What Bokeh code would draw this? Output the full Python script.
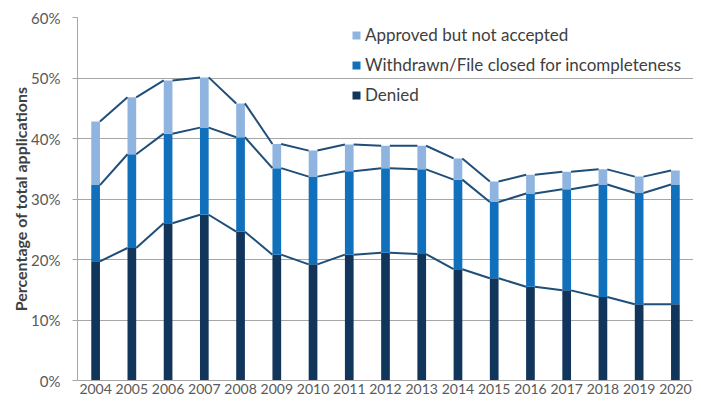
from bokeh.plotting import figure
from bokeh.models import Range1d, FixedTicker, CustomJSTickFormatter, Legend, LegendItem, ColumnDataSource
from bokeh.embed import file_html
from bokeh.resources import INLINE

years = list(range(2004, 2021))
denied = [19.7, 21.9, 26.0, 27.4, 24.6, 20.8, 19.2, 20.8, 21.1, 20.9, 18.4, 16.9, 15.5, 14.9, 13.8, 12.6, 12.6]
withdrawn = [12.6, 15.5, 14.8, 14.4, 15.6, 14.3, 14.5, 13.8, 14.0, 14.0, 14.8, 12.6, 15.4, 16.7, 18.6, 18.4, 19.8]
approved = [10.5, 9.4, 8.8, 8.3, 5.6, 4.0, 4.3, 4.4, 3.7, 3.9, 3.5, 3.4, 3.1, 2.9, 2.5, 2.7, 2.3]
series_names = ["Denied", "Withdrawn/File closed for incompleteness", "Approved but not accepted"]
y_ticks = [0, 10, 20, 30, 40, 50, 60]

colors = ["#12355b", "#1170bb", "#8fb4df"]
line_color = "#1f4e79"
bar_w = 0.24
font = "Lato"
text_color = "#404040"
grid_color = "#a6a6a6"

src = ColumnDataSource(dict(year=years, denied=denied, withdrawn=withdrawn, approved=approved))

p = figure(width=693, height=400, output_backend="svg", toolbar_location=None,
           x_range=Range1d(2003.5, 2020.5), y_range=Range1d(0, 60),
           min_border_left=77, min_border_top=17, min_border_right=0, min_border_bottom=20)
p.outline_line_color = None
p.background_fill_color = "white"

rs = p.vbar_stack(["denied", "withdrawn", "approved"], x="year", width=bar_w, source=src,
                  color=colors, line_color=None)

# series lines connecting the tops of adjacent bars
cum = [0.0] * len(years)
for vals in (denied, withdrawn, approved):
    cum = [c + v for c, v in zip(cum, vals)]
    p.segment(x0=[y + bar_w / 2 for y in years[:-1]], y0=cum[:-1],
              x1=[y - bar_w / 2 for y in years[1:]], y1=cum[1:],
              line_color=line_color, line_width=2)

p.xgrid.visible = False
p.ygrid.grid_line_color = grid_color
p.ygrid.grid_line_width = 1
p.yaxis.ticker = FixedTicker(ticks=y_ticks)
p.xaxis.ticker = FixedTicker(ticks=years)
p.yaxis.formatter = CustomJSTickFormatter(code="return tick + '%';")
p.xaxis.formatter = CustomJSTickFormatter(code="return String(tick);")

for ax in (p.xaxis[0], p.yaxis[0]):
    ax.axis_line_color = grid_color
    ax.major_tick_line_color = grid_color
    ax.minor_tick_line_color = None
    ax.major_label_text_font = font
    ax.major_label_text_font_size = "14px"
    ax.major_label_text_color = "#595959"

p.yaxis.major_label_text_font_size = "15px"
p.xaxis.major_tick_out = 0
p.xaxis.major_tick_in = 0
p.xaxis.major_label_standoff = 3
p.yaxis.major_tick_out = 5
p.yaxis.major_tick_in = 0
p.yaxis.major_label_standoff = 12
p.yaxis.axis_label = "Percentage of total applications"
p.yaxis.axis_label_text_font = font
p.yaxis.axis_label_text_font_style = "bold"
p.yaxis.axis_label_text_font_size = "16px"
p.yaxis.axis_label_text_color = text_color
p.yaxis.axis_label_standoff = -2

legend = Legend(items=[LegendItem(label=series_names[2], renderers=[rs[2]]),
                       LegendItem(label=series_names[1], renderers=[rs[1]]),
                       LegendItem(label=series_names[0], renderers=[rs[0]])],
                location=(274, 275), orientation="vertical")
legend.background_fill_alpha = 0
legend.border_line_color = None
legend.padding = 0
legend.margin = 0
legend.spacing = 9
legend.glyph_width = 10
legend.glyph_height = 10
legend.label_height = 20
legend.label_standoff = 4
legend.label_text_font = font
legend.label_text_font_size = "17px"
legend.label_text_color = text_color
p.add_layout(legend)

open("out.html", "w").write(file_html(p, INLINE))
